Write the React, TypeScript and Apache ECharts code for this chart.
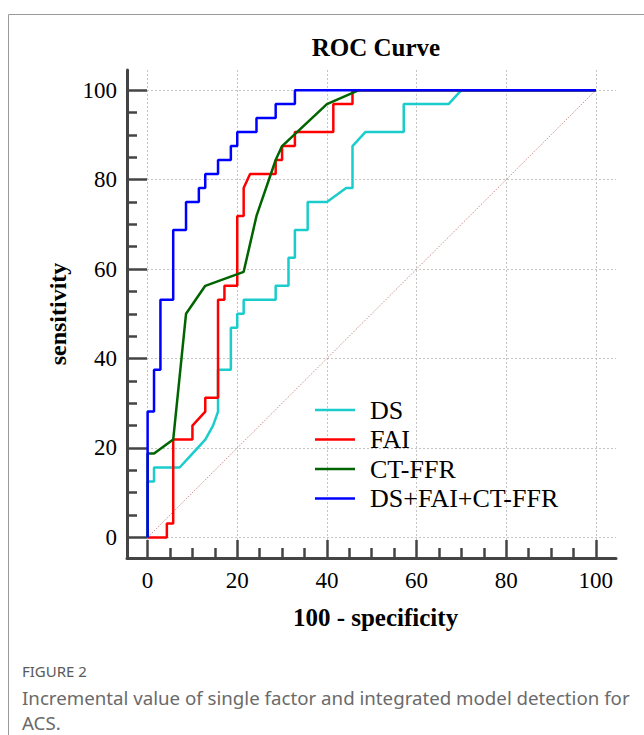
import React, { useEffect, useRef } from "react";
import * as echarts from "echarts";

// ---- data (x = 100 - specificity, y = sensitivity) ----
const dsX = [0, 0, 1.43, 1.43, 7.14, 10, 12.86, 14.6, 15.71, 15.71, 18.57, 18.57, 20, 20, 21.43, 21.43, 28.57, 28.57, 31.43, 31.43, 32.86, 32.86, 35.71, 35.71, 40, 44.29, 45.71, 45.71, 48.57, 57.14, 57.14, 67.14, 70, 100];
const dsY = [0, 12.5, 12.5, 15.63, 15.63, 18.75, 21.88, 25, 28.13, 37.5, 37.5, 46.88, 46.88, 50, 50, 53.13, 53.13, 56.25, 56.25, 62.5, 62.5, 68.75, 68.75, 75, 75, 78.13, 78.13, 87.5, 90.63, 90.63, 96.88, 96.88, 100, 100];

const faiX = [0, 4.29, 4.29, 5.71, 5.71, 10, 10, 12.86, 12.86, 15.71, 15.71, 17.14, 17.14, 20, 20, 21.43, 21.43, 22.86, 28.57, 28.57, 30, 30, 32.86, 32.86, 41.43, 41.43, 45.71, 45.71, 100];
const faiY = [0, 0, 3.13, 3.13, 21.88, 21.88, 25, 28.13, 31.25, 31.25, 53.13, 53.13, 56.25, 56.25, 71.88, 71.88, 78.13, 81.25, 81.25, 84.38, 84.38, 87.5, 87.5, 90.63, 90.63, 96.88, 96.88, 100, 100];

const ffrX = [0, 0, 1.43, 5.71, 8.57, 12.86, 21.43, 24.29, 28.57, 30, 40, 47.14, 100];
const ffrY = [0, 18.75, 18.75, 21.88, 50, 56.25, 59.38, 71.88, 84.38, 87.5, 96.88, 100, 100];

const allX = [0, 0, 1.43, 1.43, 2.86, 2.86, 5.71, 5.71, 8.57, 8.57, 11.43, 11.43, 12.86, 12.86, 15.71, 15.71, 18.57, 18.57, 20, 20, 24.29, 24.29, 28.57, 28.57, 32.86, 32.86, 100];
const allY = [0, 28.13, 28.13, 37.5, 37.5, 53.13, 53.13, 68.75, 68.75, 75, 75, 78.13, 78.13, 81.25, 81.25, 84.38, 84.38, 87.5, 87.5, 90.63, 90.63, 93.75, 93.75, 96.88, 96.88, 100, 100];

const refX = [0, 100];
const refY = [0, 100];

const seriesNames = ["DS", "FAI", "CT-FFR", "DS+FAI+CT-FFR"];
const majorTicks = [0, 20, 40, 60, 80, 100];
const minorTicks = [5, 10, 15, 25, 30, 35, 45, 50, 55, 65, 70, 75, 85, 90, 95];

const captionLabel = "FIGURE 2";
const captionLines = [
  "Incremental value of single factor and integrated model detection for",
  "ACS.",
];

const zip = (xs: number[], ys: number[]) => xs.map((x, i) => [x, ys[i]]);

const SERIF = "'Liberation Serif', 'Times New Roman', serif";
const SANS = "'Noto Sans', 'Open Sans', sans-serif";
const AXIS_COLOR = "#444444";
const AX_MIN = -4.6;
const AX_MAX = 104.5;

export default function App() {
  const ref = useRef<HTMLDivElement>(null);

  useEffect(() => {
    if (!ref.current) return;
    const chart = echarts.init(ref.current, undefined, { renderer: "svg" });

    const mainAxis = (name: string, isX: boolean) => ({
      type: "value",
      min: AX_MIN,
      max: AX_MAX,
      position: isX ? "bottom" : "left",
      axisLine: { show: true, onZero: false, lineStyle: { color: AXIS_COLOR, width: 3 } },
      axisTick: {
        show: true,
        inside: true,
        length: isX ? 18 : 20,
        customValues: majorTicks,
        lineStyle: { color: AXIS_COLOR, width: 2.5 },
      },
      axisLabel: {
        customValues: majorTicks,
        margin: isX ? 11 : 10,
        fontFamily: SERIF,
        fontSize: 23,
        color: "#000",
      },
      splitLine: { show: true, lineStyle: { color: "#c4c4c4", type: [2, 2], width: 1 } },
      name,
      nameLocation: "middle",
      nameGap: isX ? 47 : 57,
      nameRotate: isX ? 0 : 90,
      nameTextStyle: { fontFamily: SERIF, fontSize: isX ? 25 : 24, fontWeight: "bold", color: "#000", padding: isX ? [0, 0, 0, 8] : 0 },
    });

    const minorAxis = (isX: boolean) => ({
      type: "value",
      min: AX_MIN,
      max: AX_MAX,
      position: isX ? "bottom" : "left",
      axisLine: { show: false, onZero: false },
      axisTick: {
        show: true,
        inside: true,
        length: 10,
        customValues: minorTicks,
        lineStyle: { color: AXIS_COLOR, width: 2.5 },
      },
      axisLabel: { show: false },
      splitLine: { show: false },
    });

    const lineSeries = (name: string, xs: number[], ys: number[], color: string, z: number) => ({
      name,
      type: "line",
      data: zip(xs, ys),
      showSymbol: false,
      symbol: "none",
      z,
      lineStyle: { color, width: 2.5 },
      itemStyle: { color },
    });

    chart.setOption({
      animation: false,
      grid: { left: 127, right: 28, top: 70, bottom: 177, containLabel: false },
      xAxis: [mainAxis("100 - specificity", true), minorAxis(true)],
      yAxis: [mainAxis("sensitivity", false), minorAxis(false)],
      legend: {
        orient: "vertical",
        left: 315,
        top: 397,
        padding: 0,
        icon: "rect",
        itemWidth: 40,
        itemHeight: 2.5,
        itemGap: 3.5,
        data: seriesNames,
        textStyle: {
          fontFamily: SERIF,
          fontSize: 26,
          lineHeight: 26,
          color: "#000",
          padding: [0, 0, 0, 10],
        },
      },
      series: [
        {
          name: "ref",
          type: "line",
          data: zip(refX, refY),
          showSymbol: false,
          symbol: "none",
          z: 1,
          lineStyle: { color: "#c98e86", width: 1, type: [1.5, 1.5] },
        },
        lineSeries(seriesNames[0], dsX, dsY, "#1ACCCC", 2),
        lineSeries(seriesNames[1], faiX, faiY, "#FF0000", 3),
        lineSeries(seriesNames[2], ffrX, ffrY, "#006400", 4),
        lineSeries(seriesNames[3], allX, allY, "#0000FF", 5),
      ],
      graphic: [
        {
          type: "rect",
          shape: { x: 8.5, y: 14.5, width: 700, height: 800 },
          style: { fill: "none", stroke: "#9a9a9a", lineWidth: 1 },
          silent: true,
        },
        {
          type: "text",
          x: 376,
          y: 47,
          style: {
            text: "ROC Curve",
            font: `bold 25px ${SERIF}`,
            fill: "#000",
            textAlign: "center",
            textVerticalAlign: "middle",
          },
        },
        {
          type: "text",
          x: 22,
          y: 671,
          style: {
            text: captionLabel,
            font: `15px ${SANS}`,
            fill: "#5a5a5a",
            textAlign: "left",
            textVerticalAlign: "middle",
          },
        },
        ...captionLines.map((t, i) => ({
          type: "text",
          x: 22,
          y: 697 + i * 25,
          style: {
            text: t,
            font: `18.7px ${SANS}`,
            fill: "#6a6a6a",
            textAlign: "left",
            textVerticalAlign: "middle",
          },
        })),
      ],
    });

    return () => chart.dispose();
  }, []);

  return (
    <div
      ref={ref}
      style={{ position: "absolute", left: 0, top: 0, width: 644, height: 735, background: "#fff" }}
    />
  );
}
